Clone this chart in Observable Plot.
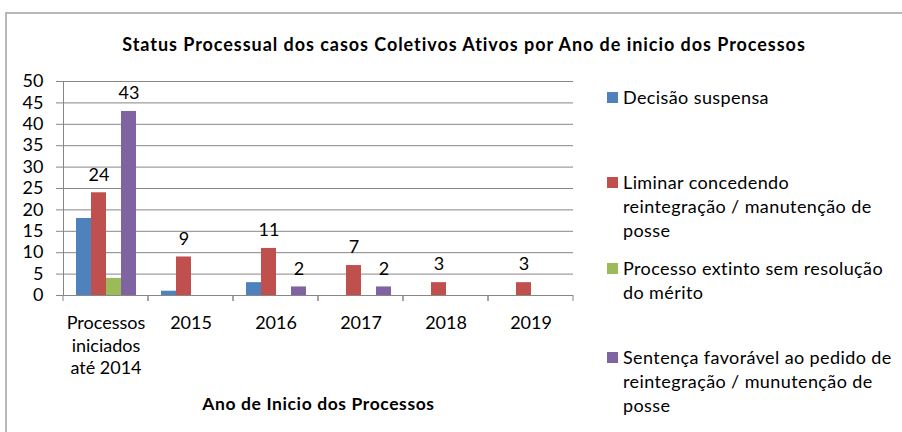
<!DOCTYPE html>
<html>
<head>
<meta charset="utf-8">
<script src="https://cdn.jsdelivr.net/npm/d3@7"></script>
<script src="https://cdn.jsdelivr.net/npm/@observablehq/plot@0.6"></script>
<style>
  html, body { margin: 0; padding: 0; background: #fff; }
  #wrap { position: relative; width: 902px; height: 432px; overflow: hidden; background: #fff; font-family: Lato, "Open Sans", sans-serif; color: #000; }
  #border { position: absolute; left: 5px; top: 12px; width: 1200px; height: 1200px; border-left: 2px solid #b8b8b8; border-top: 2px solid #b8b8b8; }
  #title { position: absolute; left: 0; top: 33px; width: 928px; text-align: center; font-weight: bold; font-size: 18px; letter-spacing: 0.95px; line-height: 22px; }
  #chart { position: absolute; left: 0; top: 0; }
  #chart [aria-label="fx-axis label"] text { font-weight: bold; font-size: 17.5px; letter-spacing: 0.6px; }
  .leg { position: absolute; left: 607px; font-size: 18px; letter-spacing: 0.4px; line-height: 24px; white-space: pre-line; padding-left: 16px; }
  .leg .sw { position: absolute; left: 0; top: 7px; width: 11px; height: 11px; }
</style>
</head>
<body>
<div id="wrap">
  <div id="border"></div>
  <div id="title"></div>
  <div id="chart"></div>
  <div id="legend"></div>
</div>
<script>
const titleText = "Status Processual dos casos Coletivos Ativos por Ano de inicio dos Processos";
const axisTitle = "Ano de Inicio dos Processos";
const categories = ["Processos iniciados até 2014", "2015", "2016", "2017", "2018", "2019"];
const tickLabels = ["Processos\niniciados\naté 2014", "2015", "2016", "2017", "2018", "2019"];
const legendLabels = [
  "Decisão suspensa",
  "Liminar concedendo\nreintegração / manutenção de\nposse",
  "Processo extinto sem resolução\ndo mérito",
  "Sentença favorável ao pedido de\nreintegração / munutenção de\nposse"
];
const series = legendLabels.map(s => s.replace(/\n/g, " "));
const colors = ["#4F81BD", "#C0504D", "#9BBB59", "#8064A2"];
const decisaoSuspensa = [18, 1, 3, 0, 0, 0];
const liminar = [24, 9, 11, 7, 3, 3];
const processoExtinto = [4, 0, 0, 0, 0, 0];
const sentencaFavoravel = [43, 0, 2, 2, 0, 0];
const labeledSeries = [series[1], series[3]];
const yTicks = [0, 5, 10, 15, 20, 25, 30, 35, 40, 45, 50];
const legendTops = [85, 170, 256, 345];

const values = [decisaoSuspensa, liminar, processoExtinto, sentencaFavoravel];
const table = categories.flatMap((c, i) => series.map((s, j) => ({category: c, series: s, value: values[j][i]})));
const labelRows = table.filter(d => labeledSeries.includes(d.series) && d.value > 0);

document.getElementById("title").textContent = titleText;

const grey = "#868686";

function boundaryTicks(index, scales) {
  try {
    const g = d3.create("svg:g");
    const [x0, x1] = scales.x.range();
    const y0 = scales.y(0);
    for (const xv of [x0, x1]) {
      g.append("line").attr("x1", xv).attr("x2", xv).attr("y1", y0).attr("y2", y0 + 6)
        .attr("stroke", grey).attr("stroke-width", 1);
    }
    return g.node();
  } catch (e) { return null; }
}

const chart = Plot.plot({
  width: 600,
  height: 432,
  marginLeft: 62,
  marginRight: 27,
  marginTop: 81,
  marginBottom: 137,
  style: {fontFamily: "Lato, 'Open Sans', sans-serif", fontSize: "18px", color: "#000", background: "transparent", overflow: "visible"},
  fx: {domain: categories, padding: 0},
  x: {domain: series, paddingInner: 0, paddingOuter: 0.75, axis: null},
  y: {domain: [0, 50], label: null},
  color: {domain: series, range: colors},
  marks: [
    Plot.gridY(yTicks, {stroke: grey, strokeOpacity: 1}),
    Plot.axisY(yTicks, {tickSize: 7, tickPadding: 13, stroke: grey, label: null, fill: "#000", fontSize: 18}),
    Plot.axisFx({anchor: "bottom", tickSize: 0, tickPadding: 18, lineHeight: 1.25, fontSize: 18,
      tickFormat: d => tickLabels[categories.indexOf(d)],
      label: axisTitle, labelAnchor: "center", labelOffset: 114, fill: "#000"}),
    Plot.barY(table.filter(d => d.value > 0), {fx: "category", x: "series", y: "value", fill: "series"}),
    Plot.frame({anchor: "left", facetAnchor: "left", stroke: grey}),
    Plot.ruleY([0], {stroke: grey}),
    boundaryTicks,
    Plot.text(labelRows, {fx: "category", x: "series", y: "value", text: "value", dy: -18, fontSize: 18, fill: "#000"})
  ]
});
document.getElementById("chart").appendChild(chart);

const legend = document.getElementById("legend");
legendLabels.forEach((lab, i) => {
  const div = document.createElement("div");
  div.className = "leg";
  div.style.top = legendTops[i] + "px";
  const sw = document.createElement("span");
  sw.className = "sw";
  sw.style.background = colors[i];
  div.appendChild(sw);
  div.appendChild(document.createTextNode(lab));
  legend.appendChild(div);
});
</script>
</body>
</html>
